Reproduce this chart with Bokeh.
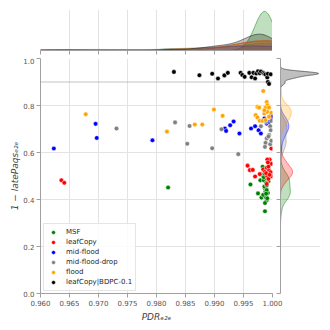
import numpy as np
from bokeh.plotting import figure
from bokeh.layouts import column, row
from bokeh.models import Range1d, FixedTicker, PrintfTickFormatter, Span
from bokeh.embed import file_html
from bokeh.resources import INLINE

CATEGORIES = ["MSF", "leafCopy", "mid-flood", "mid-flood-drop", "flood", "leafCopy|BDPC-0.1"]
COLORS = ["#008000", "#ff0000", "#0000ff", "#808080", "#ffa500", "#000000"]

MSF_X = [0.9820, 0.9962, 0.9983, 0.9979, 0.9983, 0.9988, 0.9979, 0.9985, 0.9990, 0.9993,
         0.9975, 0.9981, 0.9987, 0.9988, 0.9989, 0.9988, 0.9990, 0.9992, 0.9987,
         0.9985, 0.9989, 0.9986, 0.9990, 0.9984, 0.9991, 0.9987, 0.9989, 0.9986, 0.9990]
MSF_Y = [0.451, 0.464, 0.539, 0.508, 0.503, 0.500, 0.482, 0.482, 0.489, 0.478,
         0.426, 0.408, 0.447, 0.435, 0.418, 0.411, 0.397, 0.428, 0.350,
         0.495, 0.470, 0.455, 0.440, 0.420, 0.405, 0.385, 0.425, 0.510, 0.460]

LEAFCOPY_X = [0.9636, 0.9641, 0.9998, 0.9957, 0.9961, 0.9966, 0.9970, 0.9978, 0.9984, 0.9987,
              0.9990, 0.9995, 0.9991, 0.9998, 0.9994, 0.9997, 0.9991, 0.9998, 0.9990, 0.9993,
              0.9993, 0.9989, 0.9995, 0.9992]
LEAFCOPY_Y = [0.482, 0.471, 0.617, 0.544, 0.525, 0.526, 0.498, 0.508, 0.528, 0.518,
              0.535, 0.570, 0.570, 0.552, 0.524, 0.516, 0.499, 0.499, 0.466, 0.488,
              0.540, 0.512, 0.505, 0.558]

MIDFLOOD_X = [0.9623, 0.9695, 0.9697, 0.9793, 0.9918, 0.9920, 0.9927, 0.9933, 0.9943,
              0.9963, 0.9970, 0.9976, 0.9980, 0.9986, 0.9990, 0.9998, 0.9994, 0.9997]
MIDFLOOD_Y = [0.617, 0.722, 0.662, 0.652, 0.702, 0.692, 0.716, 0.732, 0.681,
              0.702, 0.712, 0.695, 0.681, 0.745, 0.723, 0.750, 0.730, 0.756]

MIDFLOODDROP_X = [0.9731, 0.9832, 0.9857, 0.9853, 0.9896, 0.9912, 0.9941, 0.9980, 0.9989, 0.9996,
                  0.9998, 0.9997, 0.9994, 0.9990, 0.9988, 0.9996, 0.9987, 0.9998, 0.9993]
MIDFLOODDROP_Y = [0.702, 0.728, 0.713, 0.637, 0.618, 0.699, 0.593, 0.712, 0.730, 0.712,
                  0.735, 0.695, 0.674, 0.660, 0.641, 0.635, 0.624, 0.650, 0.668]

FLOOD_X = [0.9678, 0.9818, 0.9866, 0.9879, 0.9899, 0.9914, 0.9984, 0.9974, 0.9977, 0.9990,
           0.9991, 0.9988, 0.9994, 0.9986, 0.9991, 0.9998, 0.9971, 0.9974, 0.9978, 0.9983,
           0.9988, 0.9994, 0.9986]
FLOOD_Y = [0.763, 0.689, 0.719, 0.719, 0.783, 0.756, 0.862, 0.794, 0.791, 0.815,
           0.801, 0.791, 0.791, 0.766, 0.773, 0.769, 0.759, 0.749, 0.735, 0.735,
           0.738, 0.752, 0.780]

BDPC_X = [0.9830, 0.9874, 0.9896, 0.9906, 0.9917, 0.9923, 0.9945, 0.9948, 0.9952, 0.9960,
          0.9964, 0.9967, 0.9970, 0.9972, 0.9975, 0.9978, 0.9980, 0.9984, 0.9986, 0.9988,
          0.9991, 0.9992, 0.9997, 0.9992, 0.9994]
BDPC_Y = [0.943, 0.929, 0.935, 0.915, 0.928, 0.939, 0.939, 0.930, 0.922, 0.939,
          0.920, 0.939, 0.915, 0.936, 0.946, 0.937, 0.945, 0.939, 0.935, 0.932,
          0.919, 0.935, 0.933, 0.900, 0.892]

SERIES_X = [MSF_X, LEAFCOPY_X, MIDFLOOD_X, MIDFLOODDROP_X, FLOOD_X, BDPC_X]
SERIES_Y = [MSF_Y, LEAFCOPY_Y, MIDFLOOD_Y, MIDFLOODDROP_Y, FLOOD_Y, BDPC_Y]

X_TICKS = [0.960, 0.965, 0.970, 0.975, 0.980, 0.985, 0.990, 0.995, 1.000]
Y_TICKS = [0.0, 0.2, 0.4, 0.6, 0.8, 1.0]
X_LIMITS = (0.960, 1.000)
Y_LIMITS = (0.0, 1.0)
THRESHOLD = 0.9

FONT = "DejaVu Sans"
AXIS_COLOR = "#a0a0a0"
GRID_COLOR = "#e3e3e3"
TICK_TEXT = "#555555"

N_TOTAL = sum(len(s) for s in SERIES_X)


def kde_curve(vals):
    v = np.asarray(vals, dtype=float)
    n = len(v)
    bw = np.std(v, ddof=1) * n ** (-0.2)
    grid = np.linspace(v.min() - 3 * bw, v.max() + 3 * bw, 200)
    dens = np.exp(-0.5 * ((grid[:, None] - v[None, :]) / bw) ** 2).sum(axis=1) / (n * bw * np.sqrt(2 * np.pi))
    return grid, dens * n / N_TOTAL


def style_axis(ax, ticks, show_labels=True):
    ax.axis_line_color = AXIS_COLOR
    ax.major_tick_line_color = AXIS_COLOR
    ax.major_tick_out = 4
    ax.major_tick_in = 0
    ax.minor_tick_line_color = None
    ax.major_label_text_font = FONT
    ax.major_label_text_color = TICK_TEXT
    if show_labels:
        ax.major_label_text_font_size = "7px"
        ax.major_label_standoff = 2
    else:
        ax.major_label_overrides = {t: "" for t in ticks}
        ax.major_label_text_font_size = "1px"
        ax.major_label_standoff = 0


main = figure(frame_width=232, frame_height=235, x_range=Range1d(*X_LIMITS), y_range=Range1d(*Y_LIMITS),
              output_backend="svg", toolbar_location=None,
              min_border_left=40, min_border_right=12, min_border_top=1, min_border_bottom=37)
main.outline_line_color = None
for g in (main.xgrid, main.ygrid):
    g.grid_line_color = GRID_COLOR
    g.grid_line_width = 1
main.xaxis.ticker = FixedTicker(ticks=X_TICKS)
main.yaxis.ticker = FixedTicker(ticks=Y_TICKS)
main.xaxis.formatter = PrintfTickFormatter(format="%.3f")
main.yaxis.formatter = PrintfTickFormatter(format="%.1f")
style_axis(main.xaxis[0], X_TICKS)
style_axis(main.yaxis[0], Y_TICKS)
main.xaxis.axis_label = "PDRₑ₂ₑ"
main.yaxis.axis_label = "1 − latePaqsₑ₂ₑ"
for ax in (main.xaxis[0], main.yaxis[0]):
    ax.axis_label_text_font = FONT
    ax.axis_label_text_font_style = "italic"
    ax.axis_label_text_font_size = "9px"
    ax.axis_label_text_color = "#444444"
main.xaxis.axis_label_standoff = 3
main.yaxis.axis_label_standoff = 0

span = Span(location=THRESHOLD, dimension="width", line_color="#b0b0b0",
            line_dash="1 1", line_width=1.5, level="underlay")
main.add_layout(span)

for cat, col, xs, ys in zip(CATEGORIES, COLORS, SERIES_X, SERIES_Y):
    main.scatter(xs, ys, size=4.6, fill_color=col, line_color="white", line_width=0.5,
                 legend_label=cat)

leg = main.legend[0]
leg.location = (3, 2)
leg.label_text_font = FONT
leg.label_text_font_size = "7px"
leg.label_text_color = "#262626"
leg.label_height = 10
leg.glyph_height = 10
leg.glyph_width = 12
leg.label_standoff = 7
leg.spacing = 0
leg.padding = 3
leg.margin = 0
leg.border_line_color = "#cccccc"
leg.border_line_width = 1
leg.background_fill_alpha = 0.85

# top marginal
top_curves = [kde_curve(xs) for xs in SERIES_X]
top_max = max(d.max() for _, d in top_curves)
top = figure(frame_width=232, frame_height=41, x_range=main.x_range, y_range=Range1d(0, top_max * 1.05),
             output_backend="svg", toolbar_location=None,
             min_border_left=40, min_border_right=0, min_border_top=9, min_border_bottom=7)
top.outline_line_color = None
top.yaxis.visible = False
top.ygrid.visible = False
top.xgrid.grid_line_color = GRID_COLOR
top.xaxis.ticker = FixedTicker(ticks=X_TICKS)
style_axis(top.xaxis[0], X_TICKS, show_labels=False)
for col, (g, d) in zip(COLORS, top_curves):
    top.varea(x=g, y1=np.zeros_like(d), y2=d, fill_color=col, fill_alpha=0.25)
    top.line(g, d, line_color=col, line_alpha=0.6, line_width=0.8)

# right marginal (pulled left over main's right border, transparent background)
right_curves = [kde_curve(ys) for ys in SERIES_Y]
right_max = max(d.max() for _, d in right_curves)
right = figure(frame_width=40, frame_height=235, x_range=Range1d(0, right_max * 1.05), y_range=main.y_range,
               output_backend="svg", toolbar_location=None,
               min_border_left=8, min_border_right=0, min_border_top=1, min_border_bottom=37,
               margin=(0, 0, 0, -12))
right.outline_line_color = None
right.border_fill_color = None
right.background_fill_color = None
right.xaxis.visible = False
right.xgrid.visible = False
right.ygrid.grid_line_color = GRID_COLOR
right.yaxis.ticker = FixedTicker(ticks=Y_TICKS)
style_axis(right.yaxis[0], Y_TICKS, show_labels=False)
for col, (g, d) in zip(COLORS, right_curves):
    right.harea(y=g, x1=np.zeros_like(d), x2=d, fill_color=col, fill_alpha=0.25)
    right.line(d, g, line_color=col, line_alpha=0.6, line_width=0.8)

p = column(top, row(main, right, spacing=0), spacing=0)

open("out.html", "w").write(file_html(p, INLINE))
